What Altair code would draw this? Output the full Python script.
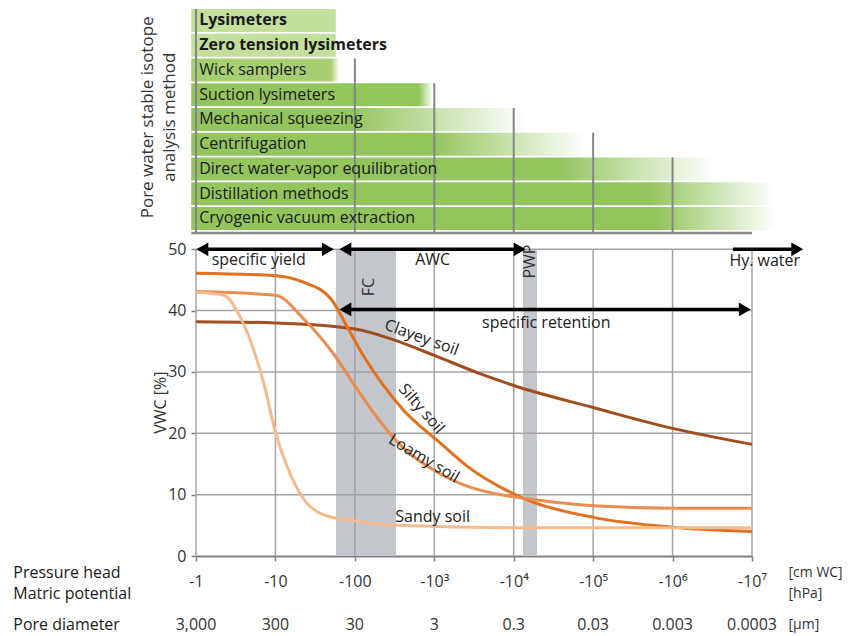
import altair as alt
import pandas as pd

# ---------------- data ----------------
methods = ["Lysimeters", "Zero tension lysimeters", "Wick samplers", "Suction lysimeters",
           "Mechanical squeezing", "Centrifugation", "Direct water-vapor equilibration",
           "Distillation methods", "Cryogenic vacuum extraction"]
method_start = -0.06
method_solid_end = [1.76, 1.76, 1.70, 2.80, 1.95, 3.00, 4.56, 5.69, 5.80]
method_end = [1.76, 1.76, 1.80, 2.98, 4.15, 4.90, 6.52, 7.28, 7.30]
method_bold = [True, True, False, False, False, False, False, False, False]
method_color = ["#c4df9c", "#c4df9c", "#a6cf72", "#92c55c", "#92c55c", "#92c55c",
                "#92c55c", "#92c55c", "#92c55c"]

top_grid_x = [0, 2, 3, 4, 5, 6]
top_grid_row = [0, 2, 3, 4, 5, 6]

decades = [0, 1, 2, 3, 4, 5, 6, 7]
pressure_labels = ["-1", "-10", "-100", "-10³", "-10⁴", "-10⁵", "-10⁶", "-10⁷"]
pore_labels = ["3,000", "300", "30", "3", "0.3", "0.03", "0.003", "0.0003"]
vwc_ticks = [0, 10, 20, 30, 40, 50]

clay_x = [0, 1, 2, 2.5, 3, 3.6, 4, 5, 6, 7]
clay_y = [38.2, 38.0, 37.0, 35.2, 32.7, 29.6, 27.8, 24.2, 20.8, 18.2]
silt_x = [0, 1, 1.36, 1.7, 1.91, 2.11, 2.36, 2.61, 3.06, 3.46, 3.88, 4.2, 5, 6, 7]
silt_y = [46.1, 45.7, 44.6, 41.9, 37.2, 32.6, 27.8, 23.8, 18.6, 14.2, 10.9, 9.0, 6.3, 4.7, 4.0]
loam_x = [0, 1, 1.36, 1.7, 2.04, 2.2, 2.62, 3.06, 3.46, 3.88, 4.2, 5, 6, 7]
loam_y = [43.1, 42.5, 38.6, 33.5, 27.0, 24.0, 17.5, 13.5, 11.2, 9.9, 9.3, 8.2, 7.8, 7.8]
sand_x = [0, 0.35, 0.57, 0.86, 1, 1.16, 1.36, 1.61, 1.91, 2.54, 4, 7]
sand_y = [43.0, 42.5, 38.6, 27.8, 20.2, 14.2, 9.2, 6.7, 5.9, 5.0, 4.6, 4.6]
soil_names = ["Clayey soil", "Silty soil", "Loamy soil", "Sandy soil"]
soil_colors = ["#a04e1e", "#e2701c", "#eb8d4f", "#f5bb8e"]
soil_label_x = [2.84, 2.84, 2.87, 2.98]
soil_label_y = [35.6, 24.0, 15.9, 6.3]
soil_label_angle = [20, 49, 31, 0]

band_names = ["FC", "PWP"]
band_x1 = [1.763, 4.117]
band_x2 = [2.518, 4.293]
band_label_x = [2.18, 4.205]
band_label_y = [43.85, 48.0]

arrow_names = ["specific yield", "AWC", "Hy. water", "specific retention"]
arrow_x1 = [0.0, 1.80, 6.76, 1.80]
arrow_x2 = [1.74, 4.155, 7.65, 6.99]
arrow_y = [50, 50, 50, 40.2]
arrow_left = [True, True, False, True]
arrow_label_x = [0.79, 2.98, 7.16, 4.41]
arrow_label_y = [48.2, 48.2, 48.1, 38.0]

left_labels = ["Pressure head", "Matric potential", "Pore diameter"]
unit_labels = ["[cm WC]", "[hPa]", "[µm]"]
side_label_y = [-2.77, -6.19, -11.25]

# ---------------- geometry (in data units) ----------------
PX_X = 79.43    # px per decade
PX_Y = 6.135    # px per VWC unit
ROW_CENTER0 = 87.29
ROW_PITCH = 4.034
BAR_HALF = 1.874
TOP_BASE = 52.65
YMAX = ROW_CENTER0 + BAR_HALF
HEAD = 0.08

FONT = "Open Sans"
FS = 16
xs = alt.Scale(domain=[0, 7], nice=False, zero=False)
ys = alt.Scale(domain=[0, YMAX], nice=False, zero=False)
label_expr = "[" + ",".join("'" + s + "'" for s in pressure_labels) + "][datum.value]"
xaxis = alt.Axis(values=decades, labelExpr=label_expr, title=None, grid=False,
                 tickSize=5, tickColor="#808080", tickWidth=1.5, domainColor="#808080",
                 domainWidth=2, labelFontSize=FS, labelFont=FONT, labelColor="#333333",
                 labelPadding=12, labelFlush=False)
yaxis = alt.Axis(values=vwc_ticks, title=None, grid=False, domain=False, tickSize=5,
                 tickColor="#808080", tickWidth=1.5, labelFontSize=FS, labelFont=FONT,
                 labelColor="#333333", labelPadding=5)


def X(f):
    return alt.X(f, type="quantitative", scale=xs, axis=xaxis)


def Y(f):
    return alt.Y(f, type="quantitative", scale=ys, axis=yaxis)


layers = []

# ---- top panel bars
for i, m in enumerate(methods):
    c = method_color[i]
    yc = ROW_CENTER0 - ROW_PITCH * i
    d = pd.DataFrame({"x1": [method_start], "x2": [method_end[i]],
                      "y1": [yc - BAR_HALF], "y2": [yc + BAR_HALF]})
    if method_solid_end[i] >= method_end[i]:
        fill = c
    else:
        f = (method_solid_end[i] - method_start) / (method_end[i] - method_start)
        fill = alt.LinearGradient(
            gradient="linear", x1=0, x2=1, y1=0, y2=0,
            stops=[alt.GradientStop(offset=0, color=c),
                   alt.GradientStop(offset=f, color=c),
                   alt.GradientStop(offset=1, color="#ffffff")])
    layers.append(alt.Chart(d).mark_rect(fill=fill, strokeWidth=0).encode(
        x=X("x1"), x2="x2", y=Y("y1"), y2="y2"))

# ---- top panel grid lines + base
tg = pd.DataFrame({"x": top_grid_x,
                   "y1": [TOP_BASE] * len(top_grid_x),
                   "y2": [ROW_CENTER0 - ROW_PITCH * r + BAR_HALF for r in top_grid_row]})
layers.append(alt.Chart(tg).mark_rule(color="#858585", strokeWidth=2).encode(
    x=X("x"), y=Y("y1"), y2="y2"))
layers.append(alt.Chart(pd.DataFrame({"x1": [method_start], "x2": [7.0], "y": [TOP_BASE]}))
              .mark_rule(color="#8a8a8a", strokeWidth=2.5).encode(x=X("x1"), x2="x2", y=Y("y")))

# ---- top panel labels
md = pd.DataFrame({"m": methods, "bold": method_bold,
                   "y": [ROW_CENTER0 - ROW_PITCH * i for i in range(len(methods))],
                   "x": [0.04] * len(methods)})
for b in [True, False]:
    layers.append(alt.Chart(md[md["bold"] == b]).mark_text(
        align="left", baseline="middle", font=FONT, fontSize=FS,
        fontWeight="bold" if b else "normal", color="#1a1a1a").encode(
        x=X("x"), y=Y("y"), text="m:N"))

layers.append(alt.Chart(pd.DataFrame({
    "t": ["Pore water stable isotope", "analysis method"], "x": [-0.61, -0.33], "y": [71.5, 71.5]}))
    .mark_text(angle=270, align="center", baseline="middle", font=FONT, fontSize=17,
               color="#333333").encode(x=X("x"), y=Y("y"), text="t:N"))

# ---- bottom panel bands
bd = pd.DataFrame({"x1": band_x1, "x2": band_x2, "y1": [0, 0], "y2": [50, 50]})
layers.append(alt.Chart(bd).mark_rect(color="#c3c6cb").encode(
    x=X("x1"), x2="x2", y=Y("y1"), y2="y2"))

# ---- bottom grid
vg = pd.DataFrame({"x": decades, "y1": [0] * 8, "y2": [50] * 8})
layers.append(alt.Chart(vg).mark_rule(color="#a3a3a3", strokeWidth=1.5).encode(
    x=X("x"), y=Y("y1"), y2="y2"))
hg = pd.DataFrame({"y": vwc_ticks[1:], "x1": [0] * 5, "x2": [7] * 5})
layers.append(alt.Chart(hg).mark_rule(color="#a3a3a3", strokeWidth=1.5).encode(
    x=X("x1"), x2="x2", y=Y("y")))

# ---- curves
for name, xv, yv, col in zip(soil_names, [clay_x, silt_x, loam_x, sand_x],
                             [clay_y, silt_y, loam_y, sand_y], soil_colors):
    d = pd.DataFrame({"x": xv, "y": yv})
    layers.append(alt.Chart(d).mark_line(color=col, strokeWidth=3, interpolate="monotone").encode(
        x=X("x"), y=Y("y")))

# ---- curve labels
sl = pd.DataFrame({"t": soil_names, "x": soil_label_x, "y": soil_label_y, "a": soil_label_angle})
layers.append(alt.Chart(sl).mark_text(align="center", baseline="middle", font=FONT,
                                      fontSize=FS, color="#222222").encode(
    x=X("x"), y=Y("y"), text="t:N", angle=alt.Angle("a:Q", scale=None)))

# ---- band labels
bl = pd.DataFrame({"t": band_names, "x": band_label_x, "y": band_label_y})
layers.append(alt.Chart(bl).mark_text(angle=270, align="center", baseline="middle", font=FONT,
                                      fontSize=FS, color="#333333").encode(
    x=X("x"), y=Y("y"), text="t:N"))

# ---- arrows
ad = pd.DataFrame({"x1": [a + (HEAD if l else 0) for a, l in zip(arrow_x1, arrow_left)],
                   "x2": [b - HEAD for b in arrow_x2], "y": arrow_y})
layers.append(alt.Chart(ad).mark_rule(color="#000000", strokeWidth=3.5, strokeCap="butt").encode(
    x=X("x1"), x2="x2", y=Y("y")))
rh = pd.DataFrame({"x": [b - HEAD for b in arrow_x2], "y": arrow_y})
layers.append(alt.Chart(rh).mark_point(shape="triangle-right", filled=True, size=190,
                                       color="#000000", opacity=1).encode(x=X("x"), y=Y("y")))
lh = pd.DataFrame({"x": [a + HEAD for a, l in zip(arrow_x1, arrow_left) if l],
                   "y": [y for y, l in zip(arrow_y, arrow_left) if l]})
layers.append(alt.Chart(lh).mark_point(shape="triangle-left", filled=True, size=190,
                                       color="#000000", opacity=1).encode(x=X("x"), y=Y("y")))
al = pd.DataFrame({"t": arrow_names, "x": arrow_label_x, "y": arrow_label_y})
layers.append(alt.Chart(al).mark_text(align="center", baseline="middle", font=FONT,
                                      fontSize=FS, color="#222222").encode(
    x=X("x"), y=Y("y"), text="t:N"))

# ---- bottom labels
pdd = pd.DataFrame({"t": pore_labels, "x": decades, "y": [side_label_y[2]] * 8})
layers.append(alt.Chart(pdd).mark_text(align="center", baseline="middle", font=FONT,
                                       fontSize=FS, color="#333333").encode(
    x=X("x"), y=Y("y"), text="t:N"))
ld = pd.DataFrame({"t": left_labels, "x": [-2.30] * 3, "y": side_label_y})
layers.append(alt.Chart(ld).mark_text(align="left", baseline="middle", font=FONT,
                                      fontSize=FS, color="#1a1a1a").encode(
    x=X("x"), y=Y("y"), text="t:N"))
ud = pd.DataFrame({"t": unit_labels, "x": [7.46] * 3, "y": side_label_y})
layers.append(alt.Chart(ud).mark_text(align="left", baseline="middle", font=FONT,
                                      fontSize=14, color="#333333").encode(
    x=X("x"), y=Y("y"), text="t:N"))
layers.append(alt.Chart(pd.DataFrame({"t": ["VWC [%]"], "x": [-0.44], "y": [25]}))
              .mark_text(angle=270, align="center", baseline="middle", font=FONT,
                         fontSize=FS, color="#333333").encode(x=X("x"), y=Y("y"), text="t:N"))

chart = alt.layer(*layers).properties(
    width=7 * PX_X, height=YMAX * PX_Y,
    padding={"left": 5, "top": 0, "right": 0, "bottom": 0},
    background="white",
).configure_view(stroke=None)

chart.save("out.html", embed_options={"renderer": "svg", "actions": False})
